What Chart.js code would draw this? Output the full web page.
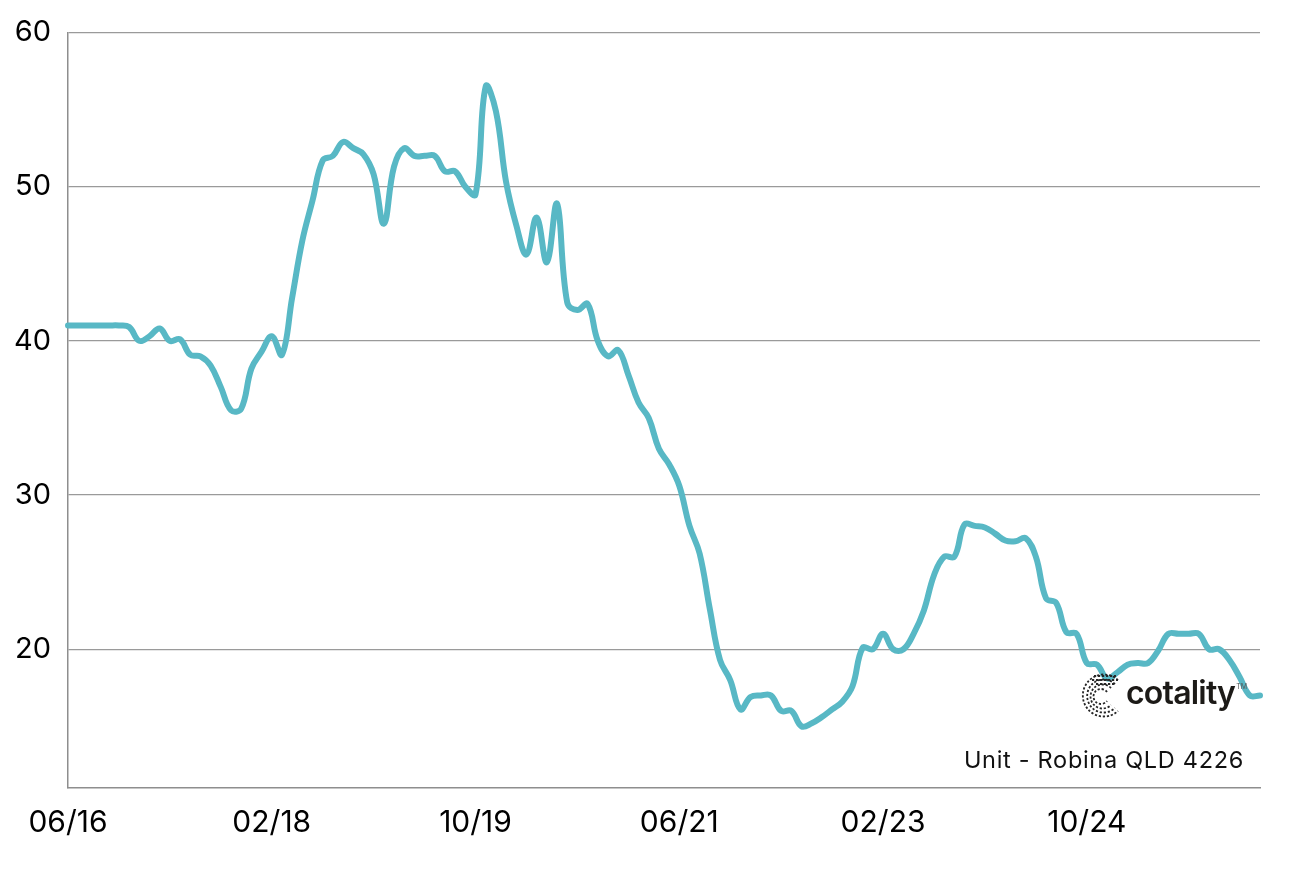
<!DOCTYPE html>
<html>
<head>
<meta charset="utf-8">
<script src="https://cdn.jsdelivr.net/npm/chart.js@4.4.1/dist/chart.umd.min.js"></script>
<style>
  html, body { margin: 0; padding: 0; background: #fff; }
  #wrap { position: relative; width: 1290px; height: 871px; }
  #caption { position: absolute; right: 46px; top: 745px; font-family: Inter, "Noto Sans", sans-serif; font-size: 23.5px; color: #111; letter-spacing: 0.7px; white-space: nowrap; }
  #logo { position: absolute; left: 1080px; top: 670px; height: 50px; display: flex; align-items: center; }
  #logo span.word { font-family: Inter, "Noto Sans", sans-serif; font-weight: 600; font-size: 32px; color: #1c1a17; letter-spacing: -0.8px; margin-left: 2px; margin-top: -6px; }
  #logo span.tm { font-family: Inter, sans-serif; font-size: 7px; color: #555; align-self: flex-start; margin-top: 12px; margin-left: 1px; }
</style>
</head>
<body>
<div id="wrap">
  <canvas id="c" width="1290" height="871"></canvas>
  <div id="logo">
    <svg width="44" height="48" viewBox="0 0 44 48">
      <g fill="none" stroke="#262626" stroke-width="1.8" stroke-dasharray="2.2 1.8">
        <path d="M38 9 A21 21 0 1 0 38 40"/>
        <path d="M35 13 A16.5 16.5 0 1 0 35 37"/>
        <path d="M31 17 A12 12 0 1 0 31 34"/>
        <path d="M27 21 A7.5 7.5 0 1 0 27 30"/>
        <path d="M14 5 L36 5"/>
        <path d="M12 9 L38 9"/>
        <path d="M16 13 L35 13"/>
      </g>
    </svg>
    <span class="word">cotality</span><span class="tm">TM</span>
  </div>
  <div id="caption">Unit - Robina QLD 4226</div>
</div>
<script>
// Monthly series, 06/16 .. 04/26
const startMonth = 6, startYear = 2016;
const values = [
  41.0, 41.0, 41.0, 41.0, 41.0, 41.0, 40.9, 40.0, 40.3, 40.8,
  40.0, 40.1, 39.1, 39.0, 38.4, 37.0, 35.5, 35.6, 38.2, 39.3,
  40.3, 39.1, 42.8, 46.5, 49.1, 51.7, 52.0, 52.9, 52.5, 52.1,
  50.8, 47.6, 51.3, 52.5, 52.0, 52.0, 52.0, 51.0, 51.0, 50.0,
  49.5, 56.5, 54.9, 50.3, 47.5, 45.6, 48.0, 45.1, 48.9, 42.5,
  42.0, 42.4, 40.0, 39.0, 39.4, 37.8, 36.0, 35.0, 33.0, 32.0,
  30.6, 28.0, 26.2, 22.6, 19.3, 18.0, 16.1, 16.9, 17.0, 17.0,
  16.0, 16.0, 15.0, 15.2, 15.6, 16.1, 16.6, 17.6, 20.1, 20.0,
  21.0, 20.0, 20.0, 21.0, 22.5, 24.8, 26.0, 26.0, 28.1, 28.0,
  27.9, 27.5, 27.05, 27.0, 27.2, 26.0, 23.3, 23.0, 21.1, 21.0,
  19.1, 19.0, 18.1, 18.5, 19.0, 19.1, 19.1, 19.9, 21.0, 21.0,
  21.0, 21.0, 20.0, 20.0, 19.3, 18.2, 17.0, 17.0
];
const xTickLabels = ['06/16', '02/18', '10/19', '06/21', '02/23', '10/24'];
const yTicks = [20, 30, 40, 50, 60];

const months = values.map((_, i) => {
  const m = (startMonth - 1 + i) % 12 + 1;
  const y = startYear + Math.floor((startMonth - 1 + i) / 12);
  return String(m).padStart(2, '0') + '/' + String(y % 100).padStart(2, '0');
});

new Chart(document.getElementById('c'), {
  type: 'line',
  data: {
    labels: months,
    datasets: [{
      data: values,
      borderColor: '#58b8c5',
      borderWidth: 6,
      pointRadius: 0,
      tension: 0.4,
      borderCapStyle: 'round',
      borderJoinStyle: 'round',
      fill: false
    }]
  },
  options: {
    responsive: false,
    animation: false,
    devicePixelRatio: 1,
    layout: { padding: { top: 20, right: 30, left: 0, bottom: 0 } },
    plugins: { legend: { display: false }, tooltip: { enabled: false } },
    scales: {
      x: {
        type: 'category',
        offset: false,
        grid: { display: false, drawTicks: false },
        border: { display: true, color: '#8e8e8e', width: 1.5 },
        afterBuildTicks: (s) => {
          s.ticks = xTickLabels.map(l => ({ value: months.indexOf(l) }));
        },
        afterFit: (s) => { s.height = 83; },
        ticks: {
          autoSkip: false,
          maxRotation: 0,
          padding: 17,
          color: '#000',
          font: { family: 'Inter', size: 30 },
          callback: function (v) { return this.getLabelForValue(v); }
        }
      },
      y: {
        min: 11,
        max: 60,
        afterBuildTicks: (s) => { s.ticks = yTicks.map(v => ({ value: v })); },
        afterFit: (s) => { s.width = 68; },
        grid: { color: '#9a9a9a', lineWidth: 1.3, drawTicks: false },
        border: { display: true, color: '#8e8e8e', width: 1.5 },
        ticks: {
          padding: 17,
          color: '#000',
          font: { family: 'Inter', size: 29, lineHeight: 1.07 }
        }
      }
    }
  }
});
</script>
</body>
</html>
